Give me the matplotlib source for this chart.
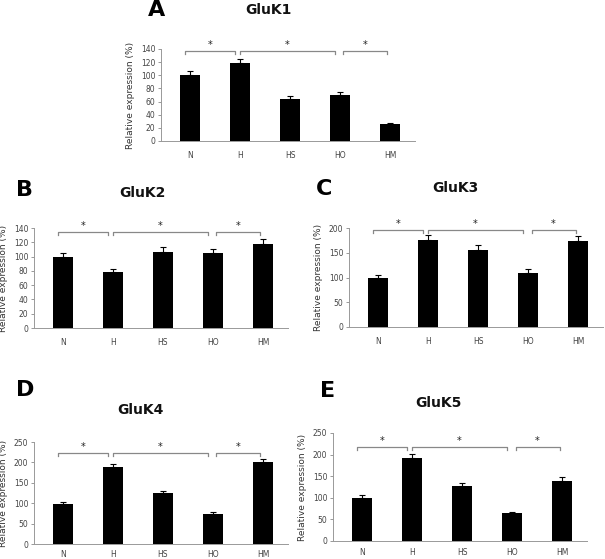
import numpy as np
import matplotlib.pyplot as plt

groups = ["N", "H", "HS", "HO", "HM"]

gluk1 = [100, 118, 64, 70, 26]
gluk1_err = [6, 7, 4, 4, 2]
gluk2 = [100, 79, 107, 105, 118]
gluk2_err = [5, 4, 6, 5, 6]
gluk3 = [99, 176, 156, 110, 174]
gluk3_err = [7, 9, 9, 7, 10]
gluk4 = [98, 188, 124, 74, 200]
gluk4_err = [5, 9, 7, 4, 9]
gluk5 = [99, 191, 127, 65, 140]
gluk5_err = [7, 11, 8, 3, 8]

W, H = 605, 559
fig = plt.figure(figsize=(W / 100, H / 100), dpi=100)

# (letter, title, values, errors, ymax, ystep, bracket level, axes px box, title px, letter px, xlabel pad)
panels = [
    ("A", "GluK1", gluk1, gluk1_err, 140, 20, 137, (161, 49, 141), (268, 10), (157, 10), 7),
    ("B", "GluK2", gluk2, gluk2_err, 140, 20, 135, (34, 228, 328), (142, 193), (25, 190), 7),
    ("C", "GluK3", gluk3, gluk3_err, 200, 50, 195, (349, 228, 327), (455, 188), (324, 189), 7),
    ("D", "GluK4", gluk4, gluk4_err, 250, 50, 223, (34, 442, 544), (140, 410), (25, 390), 4),
    ("E", "GluK5", gluk5, gluk5_err, 250, 50, 217, (333, 433, 541), (438, 403), (328, 391), 5),
]

x = np.arange(len(groups))
brackets = [(-0.1, 0.9), (1.0, 2.9), (3.07, 3.95)]

for letter, title, vals, errs, ymax, ystep, blevel, box, tpos, lpos, xpad in panels:
    left, top, bottom = box
    ax = fig.add_axes([left / W, 1 - bottom / H, 254 / W, (bottom - top) / H])
    ax.bar(x, vals, width=0.4, color="black", zorder=2)
    ax.errorbar(x, vals, yerr=[np.zeros(len(vals)), errs], fmt="none",
                ecolor="black", elinewidth=0.8, capsize=2, capthick=0.8, zorder=3)
    ax.set_xlim(-0.58, 4.5)
    ax.set_ylim(0, ymax)
    ax.set_yticks(np.arange(0, ymax + 1, ystep))
    ax.set_xticks(x)
    ax.set_xticklabels(groups)
    ax.tick_params(axis="x", length=0, pad=xpad, labelsize=5.5, labelcolor="#444")
    ax.tick_params(axis="y", length=2, width=0.6, color="#888", pad=2,
                   labelsize=5.5, labelcolor="#444")
    for s in ["top", "right"]:
        ax.spines[s].set_visible(False)
    for s in ["left", "bottom"]:
        ax.spines[s].set_color("#999")
        ax.spines[s].set_linewidth(0.7)
    ax.set_ylabel("Relative expression (%)", fontsize=6.5, color="#333", labelpad=4)

    tick = ymax * 0.03
    for x0, x1 in brackets:
        ax.plot([x0, x0, x1, x1], [blevel - tick, blevel, blevel, blevel - tick],
                color="#888", lw=0.9, clip_on=False)
        ax.text((x0 + x1) / 2, blevel + ymax * 0.01, "*", ha="center", va="bottom",
                fontsize=7, color="#222")

    fig.text(tpos[0] / W, 1 - tpos[1] / H, title, ha="center", va="center",
             fontsize=10, fontweight="bold", color="#111")
    fig.text(lpos[0] / W, 1 - lpos[1] / H, letter, ha="center", va="center",
             fontsize=16, fontweight="bold", color="#000")

fig.savefig("out.png", dpi=100)
